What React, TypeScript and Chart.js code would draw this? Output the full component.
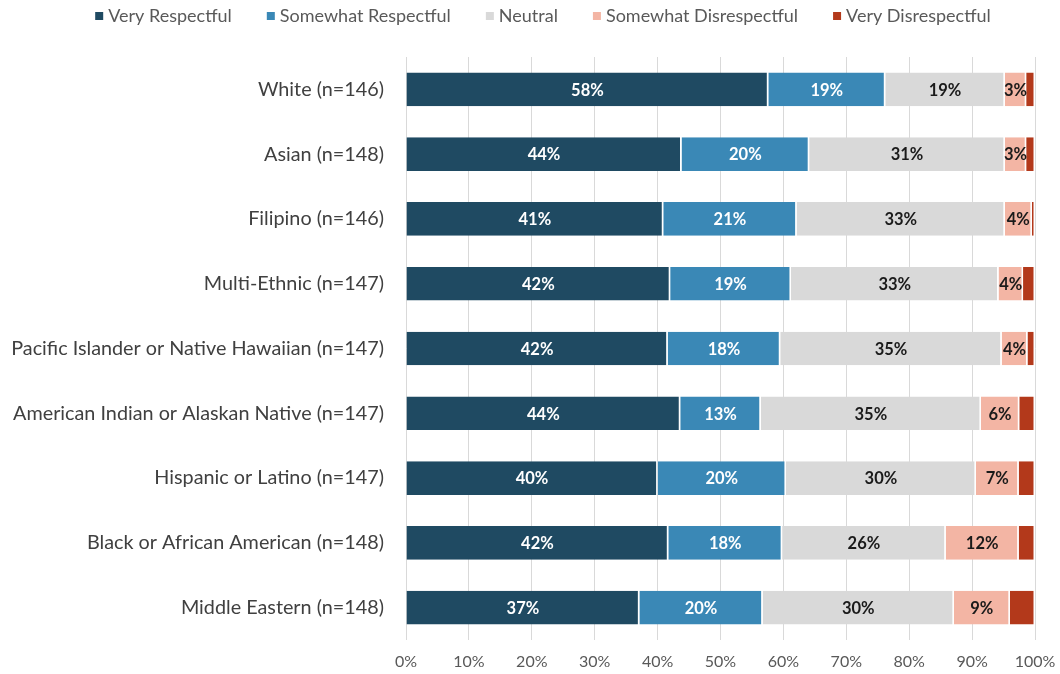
import React, { useEffect, useRef } from "react";
import { Chart, registerables } from "chart.js";

Chart.register(...registerables);

const categories = [
  "White (n=146)",
  "Asian (n=148)",
  "Filipino (n=146)",
  "Multi-Ethnic (n=147)",
  "Pacific Islander or Native Hawaiian (n=147)",
  "American Indian or Alaskan Native (n=147)",
  "Hispanic or Latino (n=147)",
  "Black or African American (n=148)",
  "Middle Eastern (n=148)",
];

const veryRespectful = [57.6, 43.8, 40.9, 42.0, 41.6, 43.6, 40.0, 41.7, 37.1];
const somewhatRespectful = [18.6, 20.3, 21.2, 19.2, 17.9, 12.8, 20.4, 18.1, 19.6];
const neutral = [19.0, 31.1, 33.1, 33.0, 35.2, 35.0, 30.2, 26.0, 30.4];
const somewhatDisrespectful = [3.4, 3.4, 4.3, 3.9, 4.1, 6.1, 6.8, 11.6, 8.9];
const veryDisrespectful = [1.4, 1.4, 0.5, 1.9, 1.2, 2.5, 2.6, 2.6, 4.0];

const seriesNames = [
  "Very Respectful",
  "Somewhat Respectful",
  "Neutral",
  "Somewhat Disrespectful",
  "Very Disrespectful",
];
const seriesColors = ["#1F4A62", "#3A88B6", "#D9D9D9", "#F3B5A4", "#B3391B"];
const labelColors = ["#FFFFFF", "#FFFFFF", "#1A1A1A", "#1A1A1A", null];

const xTicks = [0, 10, 20, 30, 40, 50, 60, 70, 80, 90, 100];

const FONT = 'Lato, "Open Sans", sans-serif';

const legendPlugin = {
  id: "customLegend",
  afterDraw(chart: any) {
    const ctx = chart.ctx;
    ctx.save();
    ctx.font = `18px ${FONT}`;
    ctx.textBaseline = "middle";
    const box = 8;
    const gapText = 5;
    const gapItems = 35;
    const items = chart.data.datasets.map((d: any) => ({
      text: d.label,
      color: d.backgroundColor,
      w: ctx.measureText(d.label).width,
    }));
    const total =
      items.reduce((s: number, it: any) => s + box + gapText + it.w, 0) +
      gapItems * (items.length - 1);
    let x = chart.width / 2 + 13 - total / 2;
    const y = 16;
    items.forEach((it: any) => {
      ctx.fillStyle = it.color;
      ctx.fillRect(x, y - box / 2, box, box);
      x += box + gapText;
      ctx.fillStyle = "#595959";
      ctx.textAlign = "left";
      ctx.fillText(it.text, x, y);
      x += it.w + gapItems;
    });
    ctx.restore();
  },
};

const dataLabelPlugin = {
  id: "segmentLabels",
  afterDatasetsDraw(chart: any) {
    const ctx = chart.ctx;
    ctx.save();
    ctx.font = `bold 16.5px ${FONT}`;
    ctx.textAlign = "center";
    ctx.textBaseline = "middle";
    chart.data.datasets.forEach((ds: any, di: number) => {
      const color = labelColors[di];
      if (!color) return;
      const meta = chart.getDatasetMeta(di);
      meta.data.forEach((bar: any, i: number) => {
        const v = ds.data[i];
        const cx = (bar.x + bar.base) / 2;
        ctx.fillStyle = color;
        ctx.fillText(`${Math.round(v)}%`, cx, bar.y + 1);
      });
    });
    ctx.restore();
  },
};

export default function App() {
  const canvasRef = useRef<HTMLCanvasElement>(null);

  useEffect(() => {
    if (!canvasRef.current) return;
    const allSeries = [
      veryRespectful,
      somewhatRespectful,
      neutral,
      somewhatDisrespectful,
      veryDisrespectful,
    ];
    const chart = new Chart(canvasRef.current, {
      type: "bar",
      data: {
        labels: categories,
        datasets: allSeries.map((d, i) => ({
          label: seriesNames[i],
          data: d,
          backgroundColor: seriesColors[i],
          borderColor: "#FFFFFF",
          borderWidth: { left: 0, right: 1.5, top: 0, bottom: 0 },
          borderSkipped: false,
          categoryPercentage: 1,
          barPercentage: 0.52,
        })),
      },
      options: {
        indexAxis: "y",
        animation: false,
        responsive: true,
        maintainAspectRatio: false,
        layout: { padding: { top: 57, right: 25, bottom: 0, left: 0 } },
        plugins: {
          legend: { display: false },
          tooltip: { enabled: false },
        },
        scales: {
          x: {
            stacked: true,
            min: 0,
            max: 100,
            afterBuildTicks(scale: any) {
              scale.ticks = xTicks.map((v) => ({ value: v }));
            },
            afterFit(scale: any) {
              scale.height = 34;
              scale.paddingLeft = 0;
              scale.paddingRight = 0;
            },
            ticks: {
              callback: (v: any) => `${v}%`,
              color: "#595959",
              font: { family: FONT, size: 16 },
              padding: 12,
              maxRotation: 0,
            },
            grid: { color: "#D9D9D9", drawTicks: false, lineWidth: 1 },
            border: { display: false },
          },
          y: {
            stacked: true,
            afterFit(scale: any) {
              scale.width = 406;
            },
            ticks: {
              color: "#404040",
              font: { family: FONT, size: 19.8 },
              padding: 22,
            },
            grid: { display: false, drawTicks: false },
            border: { display: false },
          },
        },
      },
      plugins: [legendPlugin, dataLabelPlugin],
    } as any);
    return () => chart.destroy();
  }, []);

  return (
    <div style={{ position: "absolute", left: 0, top: 0, width: 1060, height: 674, background: "#fff" }}>
      <canvas ref={canvasRef} />
    </div>
  );
}
